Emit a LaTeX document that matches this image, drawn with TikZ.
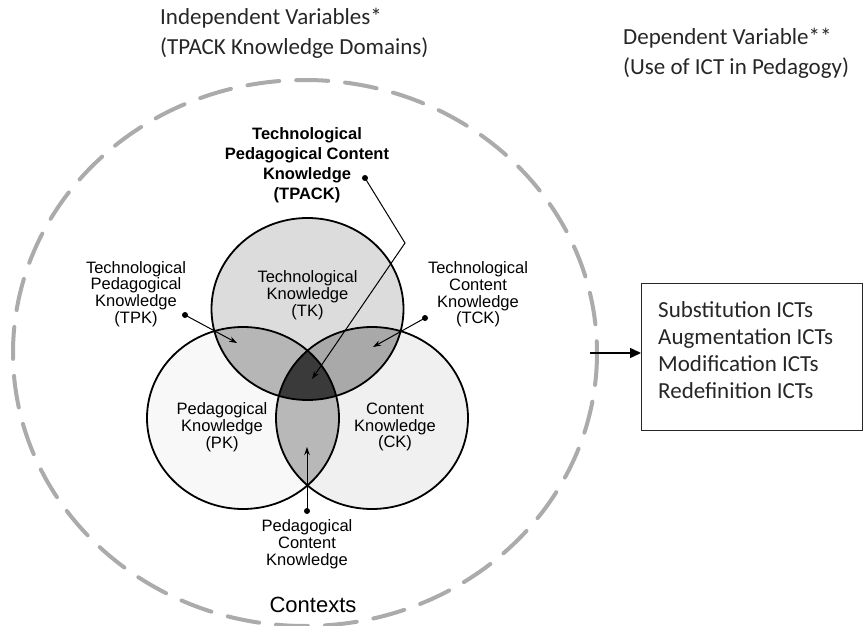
\documentclass[tikz,border=0pt]{standalone}
\usepackage{fontspec}
\setmainfont{Carlito}
\newfontfamily\arialf{Liberation Sans}
\usetikzlibrary{arrows.meta}
\definecolor{ctxgray}{HTML}{ABABAB}
\definecolor{tkfill}{HTML}{DCDCDC}
\definecolor{pkfill}{HTML}{F8F8F8}
\definecolor{ckfill}{HTML}{F0F0F0}
\definecolor{tpkfill}{HTML}{B6B6B6}
\definecolor{tckfill}{HTML}{A9A9A9}
\definecolor{pckfill}{HTML}{B8B8B8}
\definecolor{centfill}{HTML}{3A3A3A}
\definecolor{txt}{HTML}{262626}
\begin{document}
\begin{tikzpicture}[x=1pt,y=-1pt,
  venn/.style={font=\arialf\fontsize{16.5}{16.8}\selectfont, align=center, inner sep=0pt, text=black},
  title/.style={font=\fontsize{23}{30}\selectfont, align=left, inner sep=0pt, anchor=base west, text=txt},
  lead/.style={line width=1pt, -{Stealth[length=8pt,width=5.5pt]}},
  circ/.style={line width=1.8pt, draw=black}
]
\useasboundingbox (0,0) rectangle (863,626);

% context
\draw[ctxgray, line width=4pt, dash pattern=on 32pt off 17pt, line cap=round]
  (305,353) ellipse [x radius=292, y radius=273];

% fills
\fill[pkfill] (243,418) ellipse [x radius=96, y radius=91];
\fill[ckfill] (372,418) ellipse [x radius=96, y radius=91];
\fill[tkfill] (307.5,309) ellipse [x radius=96, y radius=91];
\begin{scope}
  \clip (307.5,309) ellipse [x radius=96, y radius=91];
  \fill[tpkfill] (243,418) ellipse [x radius=96, y radius=91];
  \fill[tckfill] (372,418) ellipse [x radius=96, y radius=91];
\end{scope}
\begin{scope}
  \clip (243,418) ellipse [x radius=96, y radius=91];
  \fill[pckfill] (372,418) ellipse [x radius=96, y radius=91];
\end{scope}
\begin{scope}
  \clip (307.5,309) ellipse [x radius=96, y radius=91];
  \clip (243,418) ellipse [x radius=96, y radius=91];
  \fill[centfill] (372,418) ellipse [x radius=96, y radius=91];
\end{scope}
\draw[circ] (307.5,309) ellipse [x radius=96, y radius=91];
\draw[circ] (243,418) ellipse [x radius=96, y radius=91];
\draw[circ] (372,418) ellipse [x radius=96, y radius=91];

% titles
\node[title] (t1) at (160,55) {Independent Variables*\\(TPACK Knowledge Domains)};
\node[title] (t2) at (623,75) {Dependent Variable**\\(Use of ICT in Pedagogy)};

% labels
\node[venn] (tk) at (307.5,295) {Technological\\Knowledge\\(TK)};
\node[venn] (pk) at (222,427) {Pedagogical\\Knowledge\\(PK)};
\node[venn] (ck) at (395,427) {Content\\Knowledge\\(CK)};
\node[venn, font=\arialf\bfseries\fontsize{16.5}{20}\selectfont] (tpack) at (307,165) {Technological\\Pedagogical Content\\Knowledge\\(TPACK)};
\node[venn] (tpk) at (136,294) {Technological\\Pedagogical\\Knowledge\\(TPK)};
\node[venn] (tck) at (478,294.5) {Technological\\Content\\Knowledge\\(TCK)};
\node[venn] (pck) at (307,544) {Pedagogical\\Content\\Knowledge};
\node[venn, font=\arialf\fontsize{22}{24}\selectfont] (ctx) at (313,605) {Contexts};

% leaders
\coordinate (d1) at (365,178);
\coordinate (k1) at (405,243);
\coordinate (a1) at (312,379);
\coordinate (d2) at (185,315);
\coordinate (a2) at (237,343);
\coordinate (d3) at (425,318);
\coordinate (a3) at (373,347);
\coordinate (d4) at (307,511);
\coordinate (a4) at (307,447);
\foreach \d in {d1,d2,d3,d4} \fill (\d) circle (3pt);
\draw[lead] (d1) -- (k1) -- (a1);
\draw[lead] (d2) -- (a2);
\draw[lead] (d3) -- (a3);
\draw[lead] (d4) -- (a4);

% box
\node[draw=black!85, line width=1.3pt, minimum width=221pt, minimum height=147pt,
  anchor=north west, inner sep=0pt] (box) at (641,283) {};
\node[anchor=base west, inner sep=0pt, align=left, text=txt,
  font=\fontsize{23}{27}\selectfont] (boxtext) at (658,398)
  {Substitution ICTs\\Augmentation ICTs\\Modification ICTs\\Redefinition ICTs};
\coordinate (src) at (590,353);
\draw[line width=1.5pt, -{Triangle[length=11pt,width=10pt]}] (src) -- (src -| box.west);
\end{tikzpicture}
\end{document}
